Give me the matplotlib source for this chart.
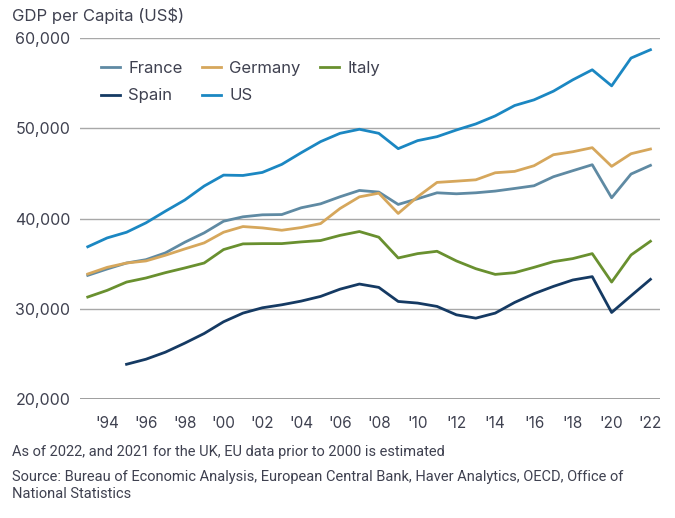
import matplotlib
matplotlib.use("Agg")
import matplotlib.pyplot as plt

# Дані (оцінено з графіка)
years = list(range(1993, 2023))

france = [33700, 34410, 35070, 35440, 36190, 37370, 38410, 39700, 40190, 40410,
          40440, 41190, 41630, 42410, 43110, 42930, 41560, 42190, 42850, 42740,
          42850, 43040, 43330, 43630, 44630, 45300, 45960, 42300, 44930, 45890]
germany = [33850, 34590, 35070, 35300, 35930, 36630, 37300, 38480, 39110, 38960,
           38700, 39000, 39440, 41110, 42400, 42810, 40560, 42410, 44000, 44140,
           44290, 45070, 45220, 45850, 47070, 47400, 47850, 45780, 47180, 47700]
italy = [31300, 32040, 32960, 33410, 34000, 34520, 35070, 36560, 37190, 37220,
         37220, 37410, 37560, 38130, 38560, 37930, 35630, 36110, 36370, 35300,
         34440, 33810, 34000, 34590, 35220, 35560, 36110, 32960, 35960, 37480]
spain_years = list(range(1995, 2023))
spain = [23850, 24410, 25190, 26190, 27260, 28560, 29520, 30110, 30440, 30850,
         31370, 32170, 32740, 32370, 30810, 30630, 30260, 29330, 28960, 29520,
         30700, 31670, 32480, 33190, 33560, 29590, 31440, 33260]
us = [36870, 37850, 38480, 39520, 40810, 42050, 43600, 44810, 44770, 45110,
      46000, 47290, 48520, 49440, 49890, 49440, 47740, 48630, 49070, 49810,
      50480, 51370, 52520, 53150, 54110, 55370, 56480, 54700, 57780, 58700]

tick_years = list(range(1994, 2023, 2))
tick_labels = ["'%02d" % (y % 100) for y in tick_years]
y_ticks = [20000, 30000, 40000, 50000, 60000]

TXT = "#3f4150"
plt.rcParams["font.family"] = ["Inter", "DejaVu Sans"]

fig = plt.figure(figsize=(6.75, 5.18), dpi=100)
ax = fig.add_axes([0.1185, 0.2297, 0.978 - 0.1185, 0.9266 - 0.2297])

lines = {}
lines["France"], = ax.plot(years, france, color="#5f8aa3", lw=2.0)
lines["Germany"], = ax.plot(years, germany, color="#d6a75c", lw=2.0)
lines["Italy"], = ax.plot(years, italy, color="#69902f", lw=2.0)
lines["Spain"], = ax.plot(spain_years, spain, color="#153a63", lw=2.0)
lines["US"], = ax.plot(years, us, color="#1b87c2", lw=2.0)

ax.set_xlim(1992.6, 2022.5)
ax.set_ylim(20000, 60000)
ax.set_yticks(y_ticks)
ax.set_yticklabels([f"{v:,}" for v in y_ticks], fontsize=11.5, color=TXT)
ax.set_xticks(tick_years)
ax.set_xticklabels(tick_labels, fontsize=11, color=TXT)
ax.tick_params(axis="both", length=0)
ax.tick_params(axis="y", pad=7)
ax.tick_params(axis="x", pad=12)

for s in ax.spines.values():
    s.set_visible(False)
ax.grid(axis="y", color="#a8a8a8", lw=1.0)
ax.set_axisbelow(True)
ax.axhline(20000, color="#8c8c8c", lw=1.2, zorder=0)

fig.text(0.018, 0.985, "GDP per Capita (US$)", fontsize=12, color=TXT, va="top")

# порядок для заповнення рядками: France Germany Italy / Spain US
order = ["France", "Spain", "Germany", "US", "Italy"]
ax.legend([lines[k] for k in order], order, loc="upper left",
          bbox_to_anchor=(0.127, 1 - 46 / 518),
          bbox_transform=fig.transFigure, ncol=3, frameon=False,
          fontsize=12, handlelength=1.15, columnspacing=1.15, handletextpad=0.5,
          labelspacing=0.75, labelcolor=TXT)

foot = ["Roboto", "DejaVu Sans"]
fig.text(0.018, 1 - 452 / 518, "As of 2022, and 2021 for the UK, EU data prior to 2000 is estimated",
         fontsize=10.5, color=TXT, va="center", family=foot)
fig.text(0.018, 1 - 477 / 518,
         "Source: Bureau of Economic Analysis, European Central Bank, Haver Analytics, OECD, Office of",
         fontsize=10.5, color=TXT, va="center", family=foot)
fig.text(0.018, 1 - 494 / 518, "National Statistics",
         fontsize=10.5, color=TXT, va="center", family=foot)

fig.savefig("out.png", dpi=100)
